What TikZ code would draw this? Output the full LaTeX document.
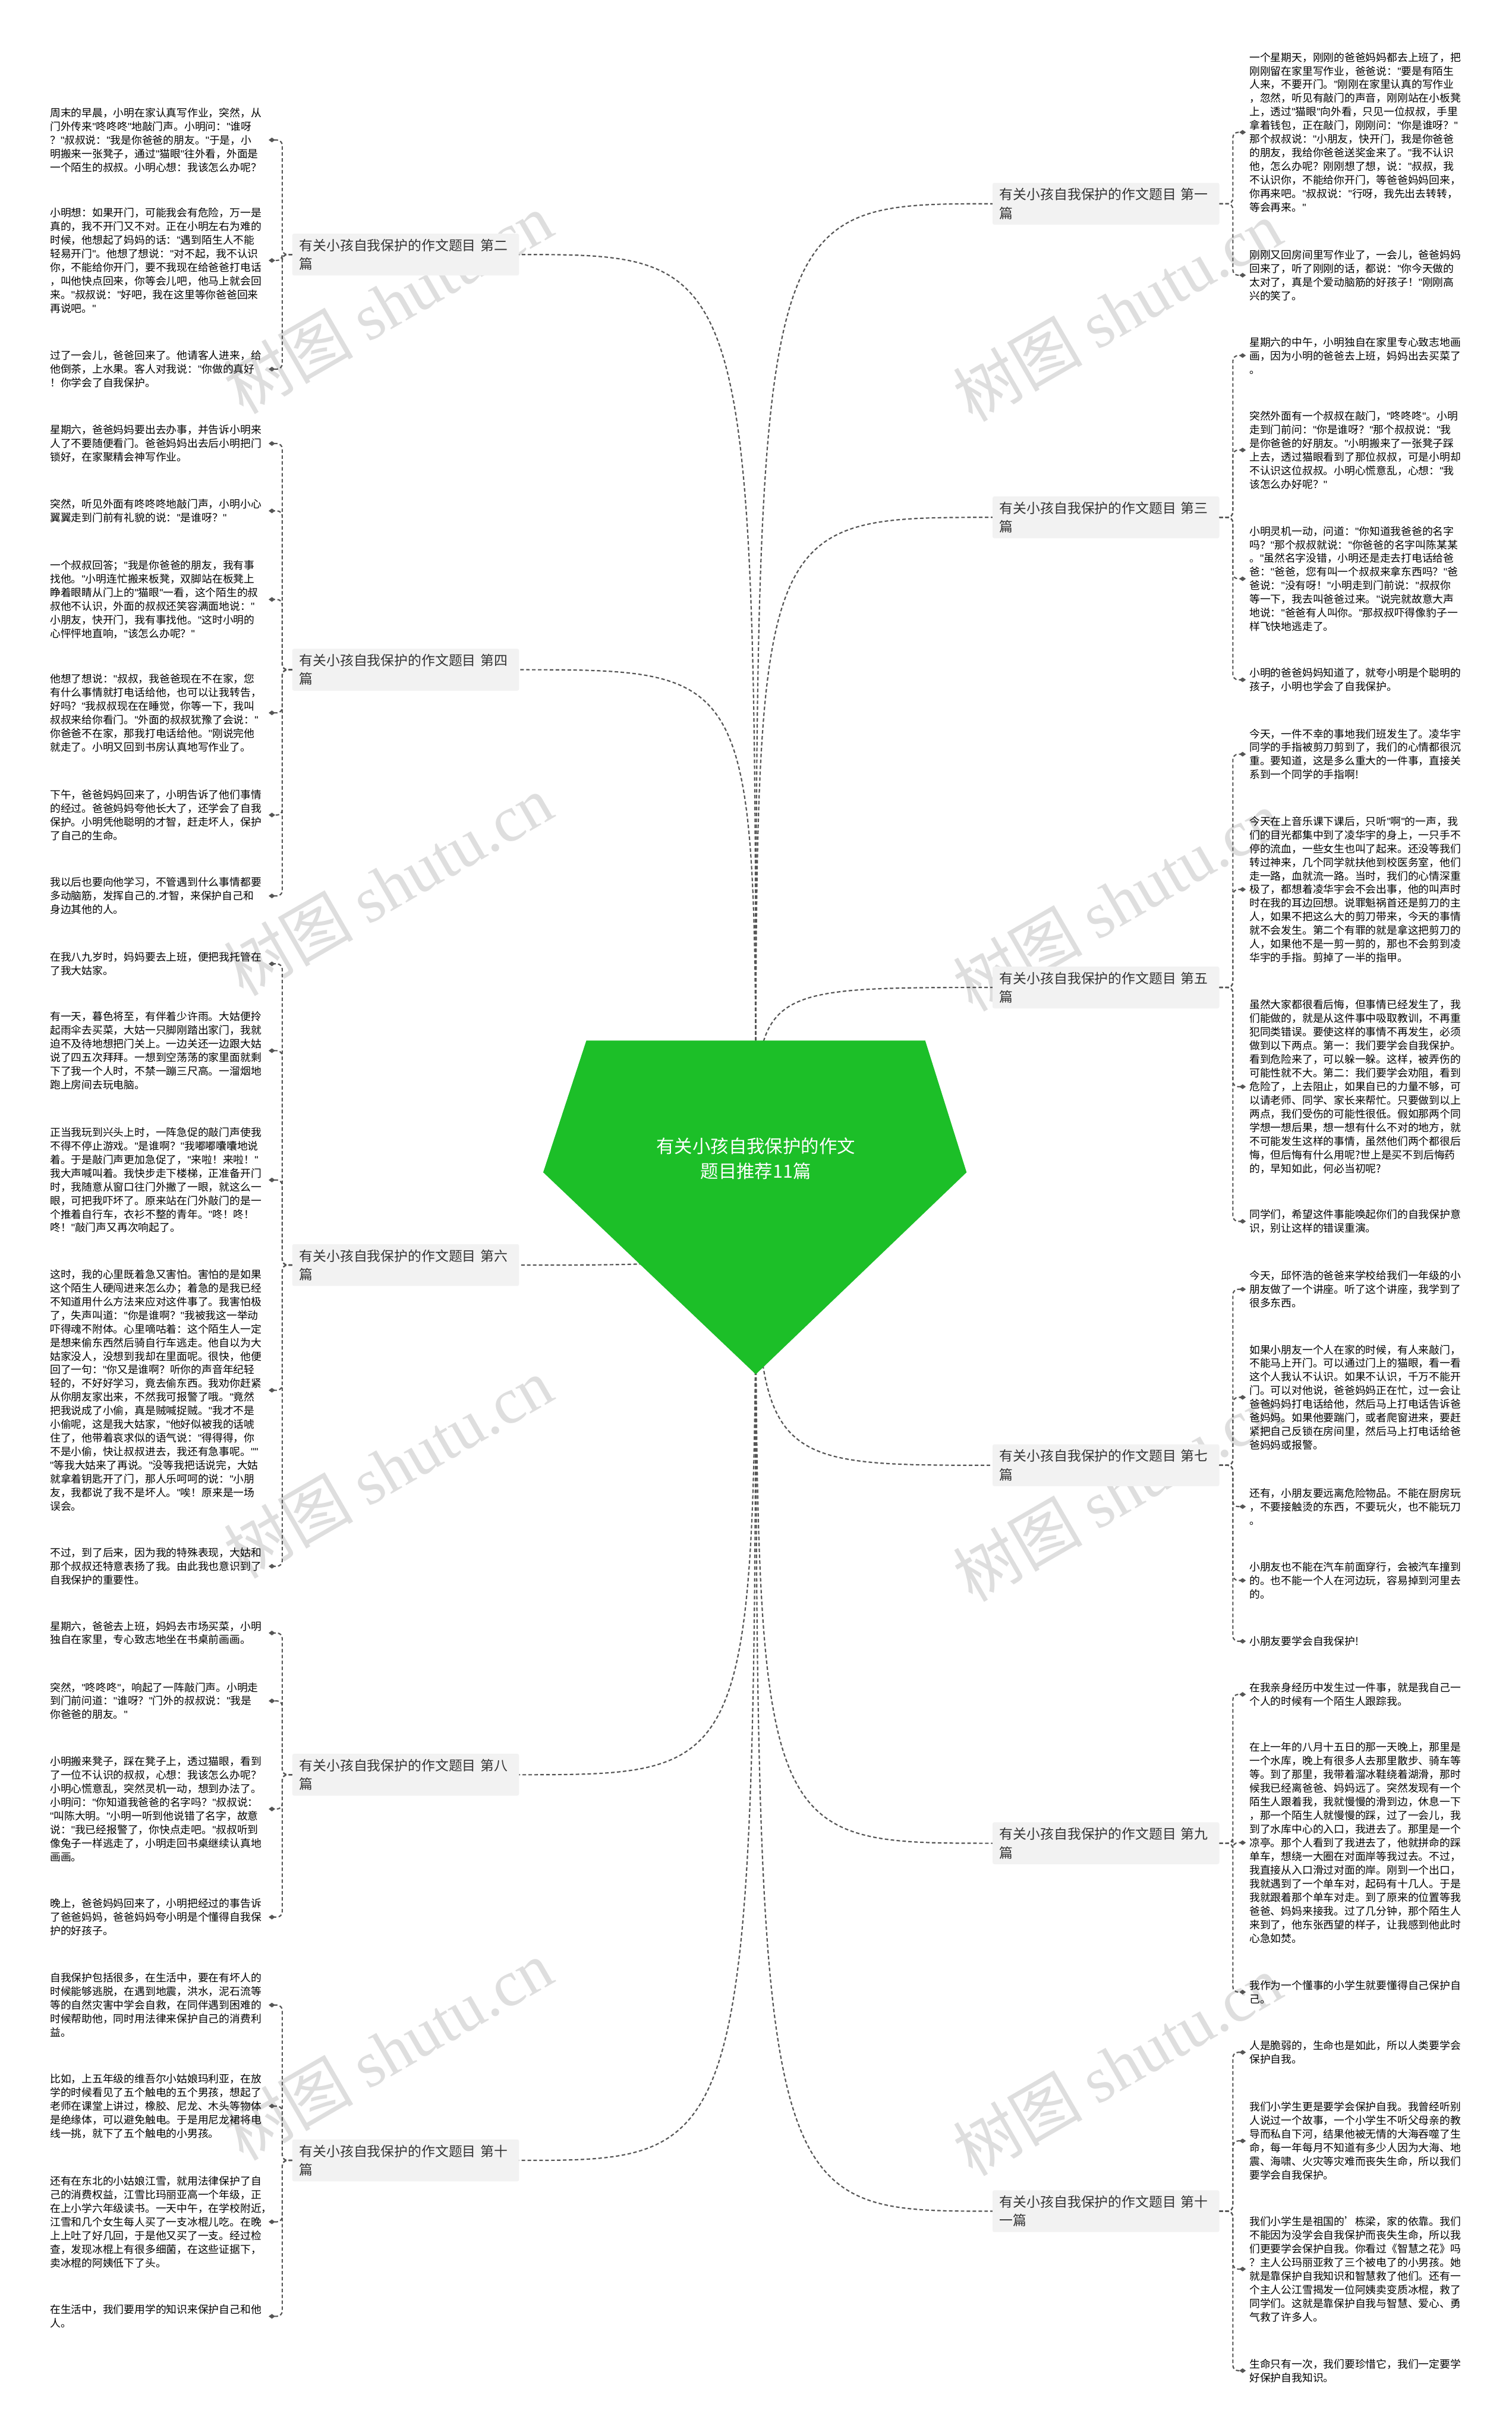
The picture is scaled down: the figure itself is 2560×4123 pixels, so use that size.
\documentclass[tikz,border=0pt]{standalone}
\usepackage{fontspec}
\setmainfont{Noto Sans CJK SC}
\newfontfamily\wmserif{Liberation Serif}
\newfontfamily\quotefont{Liberation Sans}
\usetikzlibrary{arrows.meta}
\definecolor{linkgray}{HTML}{555555}
\definecolor{topicfill}{HTML}{F2F2F2}
\definecolor{topictext}{HTML}{333333}
\definecolor{rootgreen}{HTML}{1CBF28}
\definecolor{wmgray}{HTML}{DEDEDE}
\catcode`\"=\active
\def"{{\quotefont\char34}}

\begin{document}
\begin{tikzpicture}[x=1pt, y=-1pt,
  link/.style={draw=linkgray, line width=2.2pt, dash pattern=on 6pt off 4pt},
  brace/.style={link, rounded corners=9pt, -{Diamond[length=11pt, width=8pt]}},
  topic/.style={fill=topicfill, text=topictext, rounded corners=3pt, text width=360pt, inner xsep=12pt, inner ysep=9pt, align=left, font=\fontsize{23pt}{31.5pt}\selectfont},
  leafl/.style={anchor=east, text width=360pt, inner xsep=10pt, inner ysep=0pt, align=left, font=\fontsize{17.9pt}{23.1pt}\selectfont},
  leafr/.style={leafl, anchor=west, inner xsep=6pt},
  wm/.style={text=wmgray, rotate=30, font=\fontsize{110pt}{110pt}\selectfont}]

\fill[white] (0,0) rectangle (2560,4123);
\useasboundingbox (0,0) rectangle (2560,4123);

\foreach \wx/\wy in {657/513, 657/1499, 657/2485, 657/3471, 1892/526, 1892/1525, 1892/2524, 1892/3497}
  \node[wm] at (\wx,\wy) {树图 {\wmserif shutu.cn}};

\coordinate (root) at (1280,1962);

% topics
\node[topic] (L2) at (687,431) {有关小孩自我保护的作文题目 第二\\篇};
\node[topic] (L4) at (687,1134) {有关小孩自我保护的作文题目 第四\\篇};
\node[topic] (L6) at (687,2142) {有关小孩自我保护的作文题目 第六\\篇};
\node[topic] (L8) at (687,3005) {有关小孩自我保护的作文题目 第八\\篇};
\node[topic] (L10) at (687,3658) {有关小孩自我保护的作文题目 第十\\篇};
\node[topic] (R1) at (1873,345) {有关小孩自我保护的作文题目 第一\\篇};
\node[topic] (R3) at (1873,876) {有关小孩自我保护的作文题目 第三\\篇};
\node[topic] (R5) at (1873,1672) {有关小孩自我保护的作文题目 第五\\篇};
\node[topic] (R7) at (1873,2481) {有关小孩自我保护的作文题目 第七\\篇};
\node[topic] (R9) at (1873,3121) {有关小孩自我保护的作文题目 第九\\篇};
\node[topic] (R11) at (1873,3744) {有关小孩自我保护的作文题目 第十\\一篇};

% left leaves
\node[leafl] (p2a) at (455,237) {周末的早晨，小明在家认真写作业，突然，从\\门外传来"咚咚咚"地敲门声。小明问："谁呀\\？"叔叔说："我是你爸爸的朋友。"于是，小\\明搬来一张凳子，通过"猫眼"往外看，外面是\\一个陌生的叔叔。小明心想：我该怎么办呢？};
\node[leafl] (p2b) at (455,441) {小明想：如果开门，可能我会有危险，万一是\\真的，我不开门又不对。正在小明左右为难的\\时候，他想起了妈妈的话："遇到陌生人不能\\轻易开门"。他想了想说："对不起，我不认识\\你，不能给你开门，要不我现在给爸爸打电话\\，叫他快点回来，你等会儿吧，他马上就会回\\来。"叔叔说："好吧，我在这里等你爸爸回来\\再说吧。"};
\node[leafl] (p2c) at (455,625) {过了一会儿，爸爸回来了。他请客人进来，给\\他倒茶，上水果。客人对我说："你做的真好\\！你学会了自我保护。};
\node[leafl] (p4a) at (455,751) {星期六，爸爸妈妈要出去办事，并告诉小明来\\人了不要随便看门。爸爸妈妈出去后小明把门\\锁好，在家聚精会神写作业。};
\node[leafl] (p4b) at (455,865) {突然，听见外面有咚咚咚地敲门声，小明小心\\翼翼走到门前有礼貌的说："是谁呀？"};
\node[leafl] (p4c) at (455,1015) {一个叔叔回答；"我是你爸爸的朋友，我有事\\找他。"小明连忙搬来板凳，双脚站在板凳上\\睁着眼睛从门上的"猫眼"一看，这个陌生的叔\\叔他不认识，外面的叔叔还笑容满面地说："\\小朋友，快开门，我有事找他。"这时小明的\\心怦怦地直响，"该怎么办呢？"};
\node[leafl] (p4d) at (455,1207) {他想了想说："叔叔，我爸爸现在不在家，您\\有什么事情就打电话给他，也可以让我转告，\\好吗？"我叔叔现在在睡觉，你等一下，我叫\\叔叔来给你看门。"外面的叔叔犹豫了会说："\\你爸爸不在家，那我打电话给他。"刚说完他\\就走了。小明又回到书房认真地写作业了。};
\node[leafl] (p4e) at (455,1380) {下午，爸爸妈妈回来了，小明告诉了他们事情\\的经过。爸爸妈妈夸他长大了，还学会了自我\\保护。小明凭他聪明的才智，赶走坏人，保护\\了自己的生命。};
\node[leafl] (p4f) at (455,1517) {我以后也要向他学习，不管遇到什么事情都要\\多动脑筋，发挥自己的.才智，来保护自己和\\身边其他的人。};
\node[leafl] (p6a) at (455,1632) {在我八九岁时，妈妈要去上班，便把我托管在\\了我大姑家。};
\node[leafl] (p6b) at (455,1779) {有一天，暮色将至，有伴着少许雨。大姑便拎\\起雨伞去买菜，大姑一只脚刚踏出家门，我就\\迫不及待地想把门关上。一边关还一边跟大姑\\说了四五次拜拜。一想到空荡荡的家里面就剩\\下了我一个人时，不禁一蹦三尺高。一溜烟地\\跑上房间去玩电脑。};
\node[leafl] (p6c) at (455,1998) {正当我玩到兴头上时，一阵急促的敲门声使我\\不得不停止游戏。"是谁啊？"我嘟嘟囔囔地说\\着。于是敲门声更加急促了，"来啦！来啦！"\\我大声喊叫着。我快步走下楼梯，正准备开门\\时，我随意从窗口往门外撇了一眼，就这么一\\眼，可把我吓坏了。原来站在门外敲门的是一\\个推着自行车，衣衫不整的青年。"咚！咚！\\咚！"敲门声又再次响起了。};
\node[leafl] (p6d) at (455,2354) {这时，我的心里既着急又害怕。害怕的是如果\\这个陌生人硬闯进来怎么办；着急的是我已经\\不知道用什么方法来应对这件事了。我害怕极\\了，失声叫道："你是谁啊？"我被我这一举动\\吓得魂不附体。心里嘀咕着：这个陌生人一定\\是想来偷东西然后骑自行车逃走。他自以为大\\姑家没人，没想到我却在里面呢。很快，他便\\回了一句："你又是谁啊？听你的声音年纪轻\\轻的，不好好学习，竟去偷东西。我劝你赶紧\\从你朋友家出来，不然我可报警了哦。"竟然\\把我说成了小偷，真是贼喊捉贼。"我才不是\\小偷呢，这是我大姑家，"他好似被我的话唬\\住了，他带着哀求似的语气说："得得得，你\\不是小偷，快让叔叔进去，我还有急事呢。""\\"等我大姑来了再说。"没等我把话说完，大姑\\就拿着钥匙开了门，那人乐呵呵的说："小朋\\友，我都说了我不是坏人。"唉！原来是一场\\误会。};
\node[leafl] (p6e) at (455,2652) {不过，到了后来，因为我的特殊表现，大姑和\\那个叔叔还特意表扬了我。由此我也意识到了\\自我保护的重要性。};
\node[leafl] (p8a) at (455,2765) {星期六，爸爸去上班，妈妈去市场买菜，小明\\独自在家里，专心致志地坐在书桌前画画。};
\node[leafl] (p8b) at (455,2880) {突然，"咚咚咚"，响起了一阵敲门声。小明走\\到门前问道："谁呀？"门外的叔叔说："我是\\你爸爸的朋友。"};
\node[leafl] (p8c) at (455,3063) {小明搬来凳子，踩在凳子上，透过猫眼，看到\\了一位不认识的叔叔，心想：我该怎么办呢？\\小明心慌意乱，突然灵机一动，想到办法了。\\小明问："你知道我爸爸的名字吗？"叔叔说：\\"叫陈大明。"小明一听到他说错了名字，故意\\说："我已经报警了，你快点走吧。"叔叔听到\\像兔子一样逃走了，小明走回书桌继续认真地\\画画。};
\node[leafl] (p8d) at (455,3246) {晚上，爸爸妈妈回来了，小明把经过的事告诉\\了爸爸妈妈，爸爸妈妈夸小明是个懂得自我保\\护的好孩子。};
\node[leafl] (p10a) at (455,3395) {自我保护包括很多，在生活中，要在有坏人的\\时候能够逃脱，在遇到地震，洪水，泥石流等\\等的自然灾害中学会自救，在同伴遇到困难的\\时候帮助他，同时用法律来保护自己的消费利\\益。};
\node[leafl] (p10b) at (455,3566) {比如，上五年级的维吾尔小姑娘玛利亚，在放\\学的时候看见了五个触电的五个男孩，想起了\\老师在课堂上讲过，橡胶、尼龙、木头等物体\\是绝缘体，可以避免触电。于是用尼龙裙将电\\线一挑，就下了五个触电的小男孩。};
\node[leafl] (p10c) at (455,3762) {还有在东北的小姑娘江雪，就用法律保护了自\\己的消费权益，江雪比玛丽亚高一个年级，正\\在上小学六年级读书。一天中午，在学校附近，\\江雪和几个女生每人买了一支冰棍儿吃。在晚\\上上吐了好几回，于是他又买了一支。经过检\\查，发现冰棍上有很多细菌，在这些证据下，\\卖冰棍的阿姨低下了头。};
\node[leafl] (p10d) at (455,3922) {在生活中，我们要用学的知识来保护自己和他\\人。};

% right leaves
\node[leafr] (p1a) at (2110,224) {一个星期天，刚刚的爸爸妈妈都去上班了，把\\刚刚留在家里写作业，爸爸说："要是有陌生\\人来，不要开门。"刚刚在家里认真的写作业\\，忽然，听见有敲门的声音，刚刚站在小板凳\\上，透过"猫眼"向外看，只见一位叔叔，手里\\拿着钱包，正在敲门，刚刚问："你是谁呀？"\\那个叔叔说："小朋友，快开门，我是你爸爸\\的朋友，我给你爸爸送奖金来了。"我不认识\\他，怎么办呢？刚刚想了想，说："叔叔，我\\不认识你，不能给你开门，等爸爸妈妈回来，\\你再来吧。"叔叔说："行呀，我先出去转转，\\等会再来。"};
\node[leafr] (p1b) at (2110,466) {刚刚又回房间里写作业了，一会儿，爸爸妈妈\\回来了，听了刚刚的话，都说："你今天做的\\太对了，真是个爱动脑筋的好孩子！"刚刚高\\兴的笑了。};
\node[leafr] (p3a) at (2110,602) {星期六的中午，小明独自在家里专心致志地画\\画，因为小明的爸爸去上班，妈妈出去买菜了\\。};
\node[leafr] (p3b) at (2110,762) {突然外面有一个叔叔在敲门，"咚咚咚"。小明\\走到门前问："你是谁呀？"那个叔叔说："我\\是你爸爸的好朋友。"小明搬来了一张凳子踩\\上去，透过猫眼看到了那位叔叔，可是小明却\\不认识这位叔叔。小明心慌意乱，心想："我\\该怎么办好呢？"};
\node[leafr] (p3c) at (2110,980) {小明灵机一动，问道："你知道我爸爸的名字\\吗？"那个叔叔就说："你爸爸的名字叫陈某某\\。"虽然名字没错，小明还是走去打电话给爸\\爸："爸爸，您有叫一个叔叔来拿东西吗？"爸\\爸说："没有呀！"小明走到门前说："叔叔你\\等一下，我去叫爸爸过来。"说完就故意大声\\地说："爸爸有人叫你。"那叔叔吓得像豹子一\\样飞快地逃走了。};
\node[leafr] (p3d) at (2110,1151) {小明的爸爸妈妈知道了，就夸小明是个聪明的\\孩子，小明也学会了自我保护。};
\node[leafr] (p5a) at (2110,1277) {今天，一件不幸的事地我们班发生了。凌华宇\\同学的手指被剪刀剪到了，我们的心情都很沉\\重。要知道，这是多么重大的一件事，直接关\\系到一个同学的手指啊!};
\node[leafr] (p5b) at (2110,1506) {今天在上音乐课下课后，只听"啊"的一声，我\\们的目光都集中到了凌华宇的身上，一只手不\\停的流血，一些女生也叫了起来。还没等我们\\转过神来，几个同学就扶他到校医务室，他们\\走一路，血就流一路。当时，我们的心情深重\\极了，都想着凌华宇会不会出事，他的叫声时\\时在我的耳边回想。说罪魁祸首还是剪刀的主\\人，如果不把这么大的剪刀带来，今天的事情\\就不会发生。第二个有罪的就是拿这把剪刀的\\人，如果他不是一剪一剪的，那也不会剪到凌\\华宇的手指。剪掉了一半的指甲。};
\node[leafr] (p5c) at (2110,1840) {虽然大家都很看后悔，但事情已经发生了，我\\们能做的，就是从这件事中吸取教训，不再重\\犯同类错误。要使这样的事情不再发生，必须\\做到以下两点。第一：我们要学会自我保护。\\看到危险来了，可以躲一躲。这样，被弄伤的\\可能性就不大。第二：我们要学会劝阻，看到\\危险了，上去阻止，如果自已的力量不够，可\\以请老师、同学、家长来帮忙。只要做到以上\\两点，我们受伤的可能性很低。假如那两个同\\学想一想后果，想一想有什么不对的地方，就\\不可能发生这样的事情，虽然他们两个都很后\\悔，但后悔有什么用呢?世上是买不到后悔药\\的，早知如此，何必当初呢?};
\node[leafr] (p5d) at (2110,2068) {同学们，希望这件事能唤起你们的自我保护意\\识，别让这样的错误重演。};
\node[leafr] (p7a) at (2110,2183) {今天，邱怀浩的爸爸来学校给我们一年级的小\\朋友做了一个讲座。听了这个讲座，我学到了\\很多东西。};
\node[leafr] (p7b) at (2110,2366) {如果小朋友一个人在家的时候，有人来敲门，\\不能马上开门。可以通过门上的猫眼，看一看\\这个人我认不认识。如果不认识，千万不能开\\门。可以对他说，爸爸妈妈正在忙，过一会让\\爸爸妈妈打电话给他，然后马上打电话告诉爸\\爸妈妈。如果他要踹门，或者爬窗进来，要赶\\紧把自己反锁在房间里，然后马上打电话给爸\\爸妈妈或报警。};
\node[leafr] (p7c) at (2110,2551) {还有，小朋友要远离危险物品。不能在厨房玩\\，不要接触烫的东西，不要玩火，也不能玩刀\\。};
\node[leafr] (p7d) at (2110,2676) {小朋友也不能在汽车前面穿行，会被汽车撞到\\的。也不能一个人在河边玩，容易掉到河里去\\的。};
\node[leafr] (p7e) at (2110,2779) {小朋友要学会自我保护!};
\node[leafr] (p9a) at (2110,2869) {在我亲身经历中发生过一件事，就是我自己一\\个人的时候有一个陌生人跟踪我。};
\node[leafr] (p9b) at (2110,3120) {在上一年的八月十五日的那一天晚上，那里是\\一个水库，晚上有很多人去那里散步、骑车等\\等。到了那里，我带着溜冰鞋绕着湖滑，那时\\候我已经离爸爸、妈妈远了。突然发现有一个\\陌生人跟着我，我就慢慢的滑到边，休息一下\\，那一个陌生人就慢慢的踩，过了一会儿，我\\到了水库中心的入口，我进去了。那里是一个\\凉亭。那个人看到了我进去了，他就拼命的踩\\单车，想绕一大圈在对面岸等我过去。不过，\\我直接从入口滑过对面的岸。刚到一个出口，\\我就遇到了一个单车对，起码有十几人。于是\\我就跟着那个单车对走。到了原来的位置等我\\爸爸、妈妈来接我。过了几分钟，那个陌生人\\来到了，他东张西望的样子，让我感到他此时\\心急如焚。};
\node[leafr] (p9c) at (2110,3373) {我作为一个懂事的小学生就要懂得自己保护自\\己。};
\node[leafr] (p11a) at (2110,3475) {人是脆弱的，生命也是如此，所以人类要学会\\保护自我。};
\node[leafr] (p11b) at (2110,3625) {我们小学生更是要学会保护自我。我曾经听别\\人说过一个故事，一个小学生不听父母亲的教\\导而私自下河，结果他被无情的大海吞噬了生\\命，每一年每月不知道有多少人因为大海、地\\震、海啸、火灾等灾难而丧失生命，所以我们\\要学会自我保护。};
\node[leafr] (p11c) at (2110,3842) {我们小学生是祖国的'栋梁，家的依靠。我们\\不能因为没学会自我保护而丧失生命，所以我\\们更要学会保护自我。你看过《智慧之花》吗\\？主人公玛丽亚救了三个被电了的小男孩。她\\就是靠保护自我知识和智慧救了他们。还有一\\个主人公江雪揭发一位阿姨卖变质冰棍，救了\\同学们。这就是靠保护自我与智慧、爱心、勇\\气救了许多人。};
\node[leafr] (p11d) at (2110,4014) {生命只有一次，我们要珍惜它，我们一定要学\\好保护自我知识。};

% root links
\foreach \t in {L2,L4,L6,L8,L10}
  \draw[link] (root) .. controls (root |- \t.east) and (root |- \t.east) .. (\t.east);
\foreach \t in {R1,R3,R5,R7,R9,R11}
  \draw[link] (root) .. controls (root |- \t.west) and (root |- \t.west) .. (\t.west);

\fill[rootgreen] (993,1762) -- (1567,1762) -- (1637,1985) -- (1280,2327) -- (920,1985) -- cycle;
\node[text=white, align=center, font=\fontsize{30.6pt}{42pt}\selectfont] (title) at (root) {有关小孩自我保护的作文\\题目推荐11篇};

% braces
\foreach \t/\c in {L2/p2a, L2/p2b, L2/p2c, L4/p4a, L4/p4b, L4/p4c, L4/p4d, L4/p4e, L4/p4f, L6/p6a, L6/p6b, L6/p6c, L6/p6d, L6/p6e, L8/p8a, L8/p8b, L8/p8c, L8/p8d, L10/p10a, L10/p10b, L10/p10c, L10/p10d}
  \draw[brace] (\t.west) -| ([xshift=23pt]\c.east) -- (\c.east);
\foreach \t/\c in {R1/p1a, R1/p1b, R3/p3a, R3/p3b, R3/p3c, R3/p3d, R5/p5a, R5/p5b, R5/p5c, R5/p5d, R7/p7a, R7/p7b, R7/p7c, R7/p7d, R7/p7e, R9/p9a, R9/p9b, R9/p9c, R11/p11a, R11/p11b, R11/p11c, R11/p11d}
  \draw[brace] (\t.east) -| ([xshift=-22pt]\c.west) -- (\c.west);
\end{tikzpicture}
\end{document}
